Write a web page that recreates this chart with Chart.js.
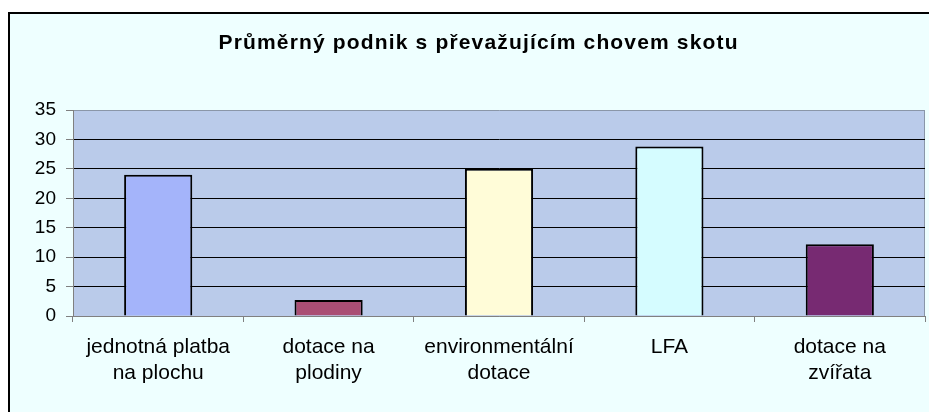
<!DOCTYPE html>
<html>
<head>
<meta charset="utf-8">
<script src="https://cdn.jsdelivr.net/npm/chart.js@4.4.1/dist/chart.umd.min.js"></script>
<style>
  html, body { margin: 0; padding: 0; background: #ffffff; overflow: hidden; }
  #frame {
    position: absolute; left: 8px; top: 12px; width: 940px; height: 420px;
    border-left: 2px solid #000; border-top: 2px solid #000; background: #eeffff;
  }
  #wrap { position: absolute; left: 0; top: 0; width: 929px; height: 412px; }
</style>
</head>
<body>
<div id="frame"></div>
<div id="wrap"><canvas id="chart"></canvas></div>
<script>
// Data
const chartTitle = 'Průměrný podnik s převažujícím chovem skotu';
const categories = [
  ['jednotná platba', 'na plochu'],
  ['dotace na', 'plodiny'],
  ['environmentální', 'dotace'],
  ['LFA'],
  ['dotace na', 'zvířata']
];
const values = [24.0, 2.7, 25.0, 28.8, 12.2];
const barColors = ['#a4b4fa', '#aa4e74', '#fffcd8', '#d5fcff', '#772a72'];
const yTicks = [0, 5, 10, 15, 20, 25, 30, 35];

// Plot area background + title
const plotBackground = {
  id: 'plotBackground',
  beforeDraw(chart) {
    const {ctx, chartArea: a} = chart;
    ctx.save();
    ctx.fillStyle = '#bacbea';
    ctx.fillRect(a.left, a.top, a.right - a.left, a.bottom - a.top);
    ctx.strokeStyle = '#8a96a8';
    ctx.lineWidth = 1;
    ctx.beginPath();
    ctx.moveTo(a.right - 0.5, a.top);
    ctx.lineTo(a.right - 0.5, a.bottom);
    ctx.stroke();
    ctx.restore();
  },
  afterDraw(chart) {
    // title is wide and letter-spaced in the original, spread chars to fit
    const ctx = chart.ctx;
    const targetWidth = 519, cx = 478, baseline = 49;
    ctx.save();
    ctx.font = 'bold 21px "Liberation Sans", Arial, sans-serif';
    ctx.fillStyle = '#000';
    ctx.textAlign = 'left';
    ctx.textBaseline = 'alphabetic';
    const chars = Array.from(chartTitle);
    const plain = ctx.measureText(chartTitle).width;
    const gap = (targetWidth - plain) / (chars.length - 1);
    let x = cx - targetWidth / 2;
    chars.forEach(ch => {
      ctx.fillText(ch, x, baseline);
      x += ctx.measureText(ch).width + gap;
    });
    ctx.restore();
  }
};

const data = {
  labels: categories,
  datasets: [{
    data: values,
    backgroundColor: barColors,
    borderColor: '#000',
    borderWidth: 2,
    categoryPercentage: 1.0,
    barPercentage: 0.4
  }]
};

const config = {
  type: 'bar',
  data,
  options: {
    responsive: true,
    maintainAspectRatio: false,
    animation: false,
    layout: { padding: { top: 110, right: 4, left: 0, bottom: 0 } },
    plugins: {
      legend: { display: false },
      tooltip: { enabled: false }
    },
    scales: {
      x: {
        offset: true,
        afterFit(scale) { scale.height = 96; },
        grid: {
          offset: true,
          drawOnChartArea: false,
          drawTicks: true,
          tickLength: 6,
          tickColor: '#808080'
        },
        border: { color: '#808080', width: 1 },
        ticks: {
          color: '#000',
          padding: 12,
          maxRotation: 0,
          autoSkip: false,
          font: { family: '"Liberation Sans", Arial, sans-serif', size: 21, lineHeight: 1.24 }
        }
      },
      y: {
        min: 0,
        max: 35,
        afterFit(scale) { scale.width = 73; },
        afterBuildTicks(scale) { scale.ticks = yTicks.map(v => ({value: v})); },
        grid: {
          color: ctx => (ctx.tick && (ctx.tick.value === 0 || ctx.tick.value === 35)) ? '#8a96a8' : '#000',
          lineWidth: 1,
          tickLength: 7,
          tickColor: '#808080'
        },
        border: { color: '#808080', width: 1 },
        ticks: {
          color: '#000',
          padding: 10,
          font: { family: '"Liberation Sans", Arial, sans-serif', size: 19 }
        }
      }
    }
  },
  plugins: [plotBackground]
};

new Chart(document.getElementById('chart'), config);
</script>
</body>
</html>
